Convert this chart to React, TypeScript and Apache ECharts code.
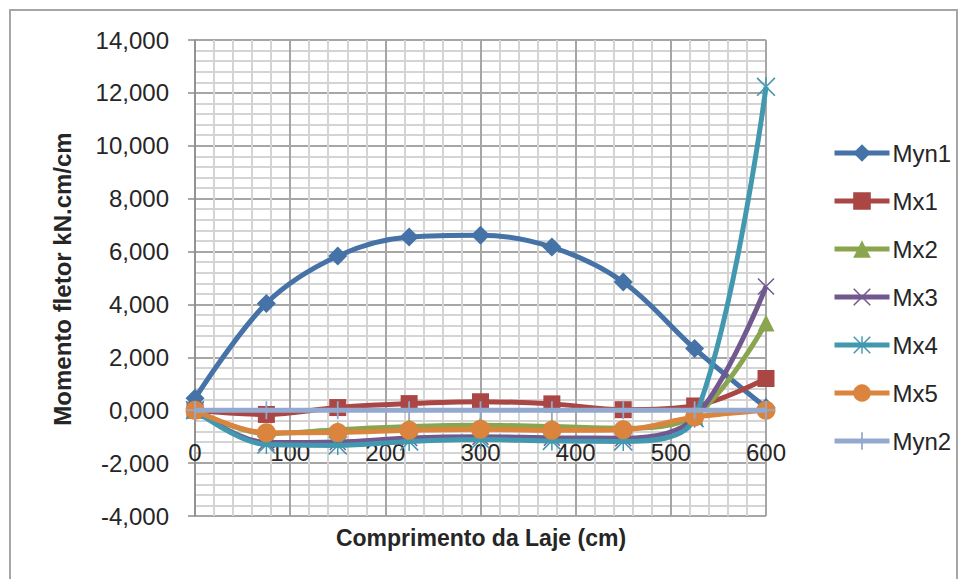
import { useEffect, useRef } from "react";
import * as echarts from "echarts";

// Positions along the slab (cm)
const positions = [0, 75, 150, 225, 300, 375, 450, 525, 600];

// Bending moments (kN.cm/cm)
const myn1 = [0.45, 4.04, 5.83, 6.55, 6.62, 6.17, 4.85, 2.33, 0.1];
const mx1 = [0, -0.16, 0.1, 0.25, 0.32, 0.24, 0.02, 0.16, 1.2];
const mx2 = [0, -0.88, -0.74, -0.62, -0.57, -0.62, -0.68, -0.2, 3.3];
const mx3 = [0, -1.22, -1.2, -1.05, -1.0, -1.04, -1.06, -0.28, 4.68];
const mx4 = [0, -1.3, -1.33, -1.18, -1.11, -1.16, -1.18, -0.3, 12.23];
const mx5 = [0, -0.85, -0.84, -0.76, -0.72, -0.76, -0.74, -0.26, 0];
const myn2 = [0, 0, 0, 0, 0, 0, 0, 0, 0];

const seriesNames = ["Myn1", "Mx1", "Mx2", "Mx3", "Mx4", "Mx5", "Myn2"];
const seriesValues = [myn1, mx1, mx2, mx3, mx4, mx5, myn2];
const seriesColors = ["#4572A7", "#AA4643", "#89A54E", "#71588F", "#4198AF", "#DB843D", "#93A9CF"];

const crossPath =
  "path://M0,1.2 L1.2,0 L10,8.8 L18.8,0 L20,1.2 L11.2,10 L20,18.8 L18.8,20 L10,11.2 L1.2,20 L0,18.8 L8.8,10 Z";
const starPath =
  "path://M0,1.2 L1.2,0 L10,8.8 L18.8,0 L20,1.2 L11.2,10 L20,18.8 L18.8,20 L10,11.2 L1.2,20 L0,18.8 L8.8,10 Z M9.2,0 L10.8,0 L10.8,8 L9.2,8 Z M9.2,12 L10.8,12 L10.8,20 L9.2,20 Z";
const plusPath = "path://M9,0 L11,0 L11,9 L20,9 L20,11 L11,11 L11,20 L9,20 L9,11 L0,11 L0,9 L9,9 Z";

const seriesSymbols = ["diamond", "rect", "triangle", crossPath, starPath, "circle", plusPath];
const seriesSymbolSizes = [19, 17, 17, 17, 19, 19, 18];

const FONT = "'Liberation Sans', Arial, sans-serif";

const formatMoment = (v: number) => v.toFixed(3).replace(".", ",");

// Plot area edges; the x axis is shifted up onto the zero line
const GRID_TOP = 40;
const GRID_BOTTOM = 63;
const Y_MIN = -4;
const Y_MAX = 14;

export default function App() {
  const ref = useRef<HTMLDivElement>(null);

  useEffect(() => {
    const chart = echarts.init(ref.current!, null, { renderer: "svg" });

    const plotHeight = 579 - GRID_TOP - GRID_BOTTOM;
    const zeroOffset = -(plotHeight * (0 - Y_MIN)) / (Y_MAX - Y_MIN);

    const series = seriesNames.map((name, i) => ({
      name,
      type: "line",
      smooth: 0.35,
      data: positions.map((x, j) => [x, seriesValues[i][j]]),
      symbol: seriesSymbols[i],
      symbolSize: seriesSymbolSizes[i],
      showAllSymbol: true,
      color: seriesColors[i],
      lineStyle: { color: seriesColors[i], width: 5 },
      itemStyle: { color: seriesColors[i], borderWidth: 0 },
      emphasis: { disabled: true },
      z: 2 + i,
    }));

    chart.setOption({
      animation: false,
      textStyle: { fontFamily: FONT },
      grid: { left: 195, right: 194, top: GRID_TOP, bottom: GRID_BOTTOM },
      legend: {
        orient: "vertical",
        left: 827,
        top: 136,
        itemWidth: 55,
        itemHeight: 22,
        itemGap: 24,
        lineStyle: { width: 5 },
        textStyle: { fontFamily: FONT, fontSize: 24, color: "#262626", lineHeight: 24, padding: [0, 0, 0, -2] },
        data: seriesNames,
      },
      xAxis: {
        type: "value",
        min: 0,
        max: 600,
        interval: 100,
        offset: zeroOffset,
        axisLine: { show: true, onZero: false, lineStyle: { color: "#8c8c8c", width: 1.5 } },
        axisTick: { show: false },
        axisLabel: { fontFamily: FONT, fontSize: 24, color: "#262626", margin: 30 },
        splitLine: { show: true, lineStyle: { color: "#a6a6a6", width: 2 } },
        minorTick: { show: false, splitNumber: 5 },
        minorSplitLine: { show: true, lineStyle: { color: "#d4d4d4", width: 2 } },
      },
      yAxis: {
        type: "value",
        min: Y_MIN,
        max: Y_MAX,
        interval: 2,
        axisLine: { show: true, onZero: false, lineStyle: { color: "#8c8c8c", width: 1.5 } },
        axisTick: { show: true, length: 7, inside: false, lineStyle: { color: "#8c8c8c", width: 1.5 } },
        axisLabel: {
          fontFamily: FONT,
          fontSize: 24,
          color: "#262626",
          margin: 26,
          formatter: formatMoment,
        },
        splitLine: { show: true, lineStyle: { color: "#a6a6a6", width: 2 } },
        minorTick: { show: false, splitNumber: 5 },
        minorSplitLine: { show: true, lineStyle: { color: "#d4d4d4", width: 2 } },
      },
      graphic: [
        {
          type: "rect",
          z: -10,
          shape: { x: 10, y: 10, width: 947, height: 580 },
          style: { fill: "#ffffff", stroke: "#a6a6a6", lineWidth: 2 },
        },
        {
          type: "text",
          x: 481,
          y: 538,
          style: {
            text: "Comprimento da Laje (cm)",
            fontFamily: FONT,
            fontSize: 23,
            fontWeight: "bold",
            fill: "#262626",
            textAlign: "center",
            textVerticalAlign: "middle",
          },
        },
        {
          type: "text",
          x: 62,
          y: 279,
          rotation: Math.PI / 2,
          style: {
            text: "Momento fletor kN.cm/cm",
            fontFamily: FONT,
            fontSize: 24,
            fontWeight: "bold",
            fill: "#262626",
            textAlign: "center",
            textVerticalAlign: "middle",
          },
        },
      ],
      series,
    });

    return () => chart.dispose();
  }, []);

  return (
    <div
      ref={ref}
      style={{ position: "absolute", left: 0, top: 0, width: 960, height: 579, background: "#ffffff" }}
    />
  );
}
